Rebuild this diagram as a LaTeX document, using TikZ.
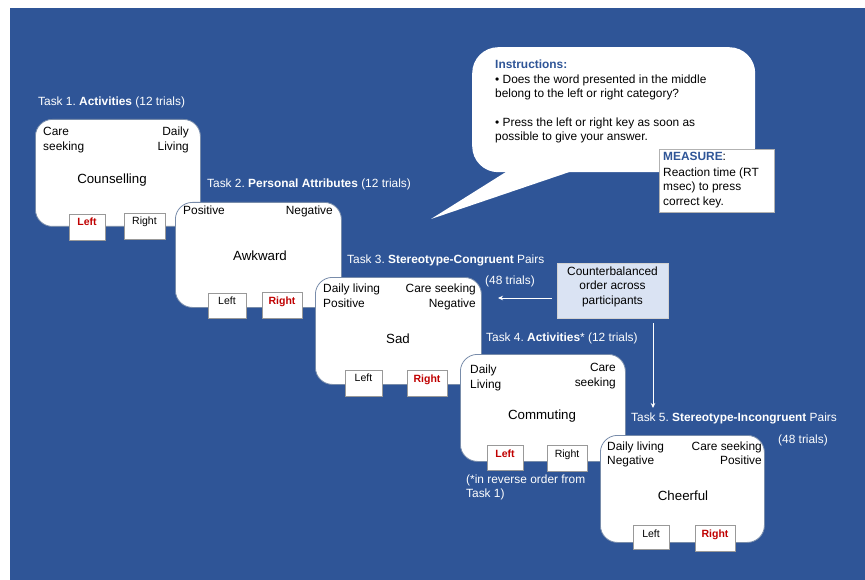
\documentclass[tikz,border=0pt]{standalone}
\usepackage{fontspec}
\setmainfont{Liberation Sans}
\usetikzlibrary{arrows.meta}
\definecolor{bgblue}{RGB}{47,85,151}
\definecolor{cbfill}{RGB}{218,227,243}
\definecolor{keyred}{RGB}{192,0,0}
\definecolor{insblue}{RGB}{47,85,151}
\definecolor{cardline}{RGB}{120,140,170}
\newcommand{\fsmall}{\fontsize{11.9}{14}\selectfont}
\tikzset{
 card/.style={draw=cardline, line width=0.8pt, fill=white, rounded corners=17pt, anchor=north west, minimum width=165pt, minimum height=107pt, inner sep=0},
 keybox/.style={draw=gray!80, line width=0.6pt, fill=white, anchor=north west, inner sep=0, minimum height=26pt},
 lab/.style={font=\fsmall, inner sep=0, text=black},
 lw/.style={lab, anchor=base west},
 le/.style={lab, anchor=base east},
 lc/.style={lab, anchor=base},
 word/.style={font=\fontsize{13.3}{16}\selectfont, inner sep=0, anchor=base},
 keyt/.style={font=\fontsize{10.5}{12}\selectfont, inner sep=0, anchor=base},
 keyhit/.style={font=\fontsize{10.5}{12}\selectfont\bfseries, text=keyred, inner sep=0, anchor=base},
 task/.style={font=\fsmall, text=white, inner sep=0, anchor=base west},
 arr/.style={draw=white, line width=0.8pt, -{Stealth[length=5pt,width=4.5pt]}}
}
\begin{document}
\frenchspacing
\begin{tikzpicture}[x=1pt,y=-1pt]
\useasboundingbox (0,0) rectangle (865,580);
\fill[white] (0,0) rectangle (865,580);
\fill[bgblue] (10,8) rectangle (865,580);

% ---------- Task 1 ----------
\node[task] (t1) at (38,106) {Task 1. \textbf{Activities} (12 trials)};
\node[card] (c1) at (35,119) {};
\node[lw] (c1a) at (43,136) {Care};
\node[lw] (c1b) at (43,151) {seeking};
\node[le] (c1c) at (189,136) {Daily};
\node[le] (c1d) at (189,151) {Living};
\node[word] (w1) at (112,184) {Counselling};
\node[keybox, minimum width=36pt] (k1l) at (69,214) {};
\node[keybox, minimum width=41pt] (k1r) at (124,213) {};
\node[keyhit] (k1lt) at (87,226) {Left};
\node[keyt] (k1rt) at (144.5,225) {Right};

% ---------- Task 2 ----------
\node[task] (t2) at (207,188) {Task 2. \textbf{Personal Attributes} (12 trials)};
\node[card, minimum width=166pt, minimum height=105pt] (c2) at (175,202) {};
\node[lw] (c2a) at (183,215) {Positive};
\node[le] (c2b) at (333,215) {Negative};
\node[word] (w2) at (260,261) {Awkward};
\node[keybox, minimum width=38pt, minimum height=25pt] (k2l) at (208,293) {};
\node[keybox, minimum width=40pt] (k2r) at (262,292) {};
\node[keyt] (k2lt) at (227,305) {Left};
\node[keyhit] (k2rt) at (282,305) {Right};

% ---------- Task 3 ----------
\node[task] (t3) at (347,264) {Task 3. \textbf{Stereotype-Congruent} Pairs};
\node[task] (t3b) at (485,284) {(48 trials)};
\node[card, minimum width=166pt] (c3) at (315,277) {};
\node[lw] (c3a) at (323,292) {Daily living};
\node[lw] (c3b) at (323,307) {Positive};
\node[le] (c3c) at (476,292) {Care seeking};
\node[le] (c3d) at (476,307) {Negative};
\node[word] (w3) at (398,343) {Sad};
\node[keybox, minimum width=37pt] (k3l) at (345,370) {};
\node[keybox, minimum width=40pt] (k3r) at (407,370) {};
\node[keyt] (k3lt) at (363.5,381) {Left};
\node[keyhit] (k3rt) at (427,382) {Right};

% ---------- Counterbalanced ----------
\node[draw=gray!35, fill=cbfill, anchor=north west, minimum width=111pt, minimum height=55pt, inner sep=0] (cb) at (557,263) {};
\node[lc] (cb1) at (612.5,276) {Counterbalanced};
\node[lc] (cb2) at (612.5,290) {order across};
\node[lc] (cb3) at (612.5,304) {participants};
\coordinate (a1s) at (552,298);
\coordinate (a1e) at (498,298);
\draw[arr] (a1s) -- (a1e);
\coordinate (a2s) at (653,323);
\coordinate (a2e) at (653,408);
\draw[arr] (a2s) -- (a2e);

% ---------- Task 4 ----------
\node[task] (t4) at (486,341) {Task 4. \textbf{Activities}* (12 trials)};
\node[card] (c4) at (460,354) {};
\node[lw] (c4a) at (470,373) {Daily};
\node[lw] (c4b) at (470,388) {Living};
\node[le] (c4c) at (616,371) {Care};
\node[le] (c4d) at (616,386) {seeking};
\node[word] (w4) at (542,419) {Commuting};
\node[keybox, minimum width=36pt, minimum height=25pt] (k4l) at (487,445) {};
\node[keybox, minimum width=40pt] (k4r) at (547,445) {};
\node[keyhit] (k4lt) at (505,457) {Left};
\node[keyt] (k4rt) at (567,457) {Right};
\node[task] (t4n1) at (466,483) {(*in reverse order from};
\node[task] (t4n2) at (466,497) {Task 1)};

% ---------- Task 5 ----------
\node[task] (t5) at (631,421) {Task 5. \textbf{Stereotype-Incongruent} Pairs};
\node[task] (t5b) at (778,443) {(48 trials)};
\node[card, minimum width=164pt] (c5) at (600,435) {};
\node[lw] (c5a) at (607,450) {Daily living};
\node[lw] (c5b) at (607,464) {Negative};
\node[le] (c5c) at (762,450) {Care seeking};
\node[le] (c5d) at (762,464) {Positive};
\node[word] (w5) at (683,500) {Cheerful};
\node[keybox, minimum width=36pt, minimum height=24pt] (k5l) at (633,525) {};
\node[keybox, minimum width=40pt] (k5r) at (695,525) {};
\node[keyt] (k5lt) at (651,537) {Left};
\node[keyhit] (k5rt) at (715,537) {Right};

% ---------- Instructions bubble ----------
\fill[white] (517,165) -- (431,219) -- (590,165) -- cycle;
\node[fill=white, rounded corners=26pt, anchor=north west, minimum width=283pt, minimum height=125pt, inner sep=0] (bub) at (472,47) {};
\node[lw, font=\fsmall\bfseries, text=insblue] (ins0) at (495,69) {Instructions:};
\node[lw] (ins1) at (495,84) {• Does the word presented in the middle};
\node[lw] (ins2) at (495,98) {belong to the left or right category?};
\node[lw] (ins3) at (495,127) {• Press the left or right key as soon as};
\node[lw] (ins4) at (495,141) {possible to give your answer.};

\node[draw=gray!60, line width=0.6pt, fill=white, anchor=north west, minimum width=115pt, minimum height=63pt, inner sep=0] (meas) at (659,149) {};
\node[lw] (m0) at (663,161) {\textcolor{insblue}{\bfseries MEASURE}:};
\node[lw] (m1) at (663,177) {Reaction time (RT};
\node[lw] (m2) at (663,191) {msec) to press};
\node[lw] (m3) at (663,206) {correct key.};
\end{tikzpicture}
\end{document}
